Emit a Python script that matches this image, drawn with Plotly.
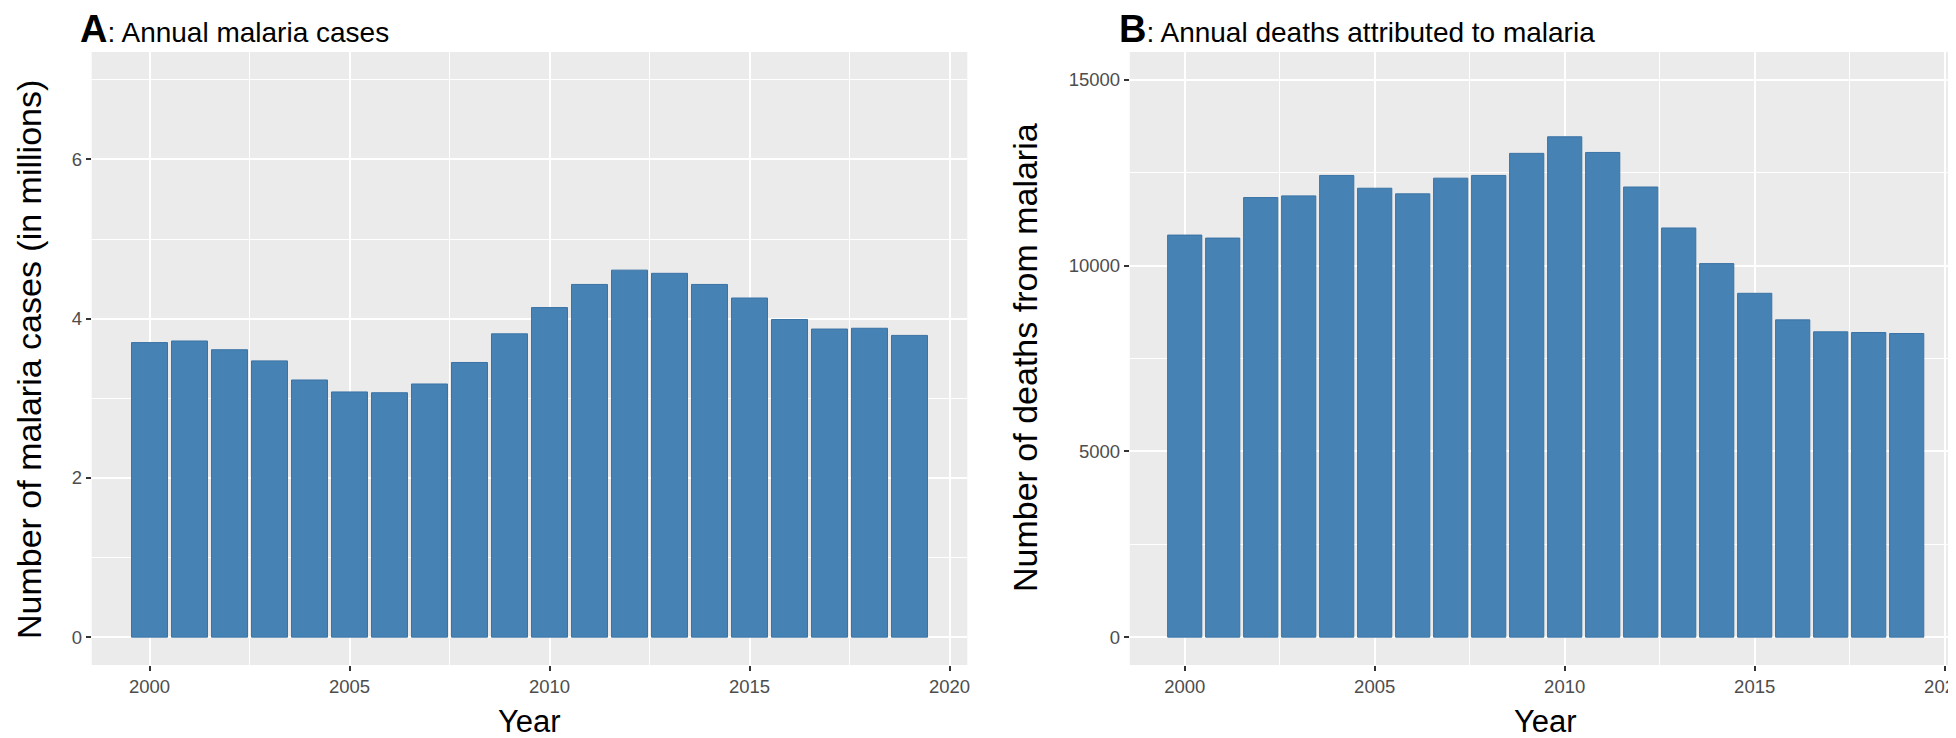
import plotly.graph_objects as go

# data
years = list(range(2000, 2020))
cases_millions = [3.70, 3.72, 3.61, 3.47, 3.23, 3.08, 3.07, 3.18, 3.45, 3.81,
                  4.14, 4.43, 4.61, 4.57, 4.43, 4.26, 3.99, 3.87, 3.88, 3.79]
deaths = [10822, 10741, 11832, 11877, 12427, 12083, 11932, 12354, 12427, 13022,
          13468, 13046, 12116, 11013, 10054, 9255, 8540, 8218, 8199, 8172]
x_ticks = [2000, 2005, 2010, 2015, 2020]
cases_ticks = [0, 2, 4, 6]
deaths_ticks = [0, 5000, 10000, 15000]
deaths_labels = ["0", "5000", "10000", "15000"]

W, H = 1956, 738
FONT = "Liberation Sans, Arial, sans-serif"
BAR = "#4682B4"
BAR_EDGE = "#3A73A6"

fig = go.Figure()
fig.add_trace(go.Bar(x=years, y=cases_millions, width=0.9,
                     marker=dict(color=BAR, line=dict(color=BAR_EDGE, width=1)),
                     xaxis="x", yaxis="y", hoverinfo="x+y"))
fig.add_trace(go.Bar(x=years, y=deaths, width=0.9,
                     marker=dict(color=BAR, line=dict(color=BAR_EDGE, width=1)),
                     xaxis="x2", yaxis="y2", hoverinfo="x+y"))


def px_x(p):
    return p / W


def px_y(p):
    return 1 - p / H


ydom = [px_y(657), px_y(44)]

common = dict(
    ticks="outside", ticklen=5, tickwidth=1.5, tickcolor="#333333",
    tickfont=dict(family=FONT, size=18.5, color="#4D4D4D"),
    showgrid=True, gridcolor="white", gridwidth=2,
    zeroline=False, showline=False, automargin=False, fixedrange=True,
    ticklabeloverflow="allow",
)

xcommon = dict(common, range=[1998.555, 2020.445], tickvals=x_ticks,
               minor=dict(tick0=2000, dtick=2.5, showgrid=True,
                          gridcolor="white", gridwidth=1, ticks=""))

fig.update_layout(
    width=W, height=H,
    margin=dict(l=0, r=0, t=0, b=0),
    paper_bgcolor="white", plot_bgcolor="#EBEBEB",
    showlegend=False,
    font=dict(family=FONT, color="black"),
    xaxis=dict(xcommon, domain=[px_x(83.7), px_x(959.3)], anchor="y"),
    yaxis=dict(common, domain=ydom, anchor="x", range=[-0.35, 7.35],
               tickvals=cases_ticks,
               minor=dict(tick0=0, dtick=1, showgrid=True,
                          gridcolor="white", gridwidth=1, ticks="")),
    xaxis2=dict(xcommon, domain=[px_x(1121.8), px_x(1953.6)], anchor="y2"),
    yaxis2=dict(common, domain=ydom, anchor="x2", range=[-750, 15750],
                tickvals=deaths_ticks, ticktext=deaths_labels,
                minor=dict(tick0=0, dtick=2500, showgrid=True,
                           gridcolor="white", gridwidth=1, ticks="")),
)

annotations = [
    # panel titles
    dict(x=px_x(70), y=px_y(21), xanchor="left", yanchor="middle",
         text='<span style="font-size:38px"><b>A</b></span>: Annual malaria cases',
         font=dict(size=28)),
    dict(x=px_x(1109), y=px_y(21), xanchor="left", yanchor="middle",
         text='<span style="font-size:38px"><b>B</b></span>: Annual deaths attributed to malaria',
         font=dict(size=28)),
    # axis titles
    dict(x=px_x(521.5), y=px_y(713), xanchor="center", yanchor="middle",
         text="Year", font=dict(size=31)),
    dict(x=px_x(1537.7), y=px_y(713), xanchor="center", yanchor="middle",
         text="Year", font=dict(size=31)),
    dict(x=px_x(21), y=px_y(352), xanchor="center", yanchor="middle",
         text="Number of malaria cases (in millions)", textangle=-90,
         font=dict(size=34)),
    dict(x=px_x(1017), y=px_y(350), xanchor="center", yanchor="middle",
         text="Number of deaths from malaria", textangle=-90,
         font=dict(size=34)),
]
for a in annotations:
    a.update(xref="paper", yref="paper", showarrow=False)
    a["font"] = dict(a["font"], family=FONT, color="black")
fig.update_layout(annotations=annotations)

fig.write_html("out.html")
